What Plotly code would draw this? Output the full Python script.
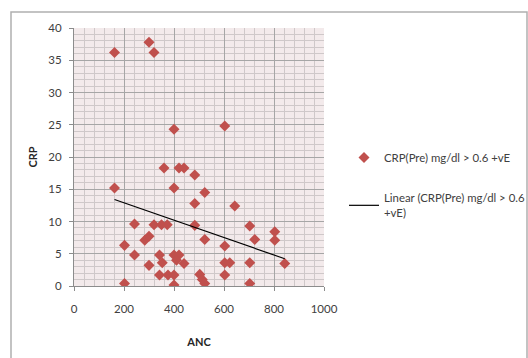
import numpy as np
import plotly.graph_objects as go

anc = [162, 300, 320, 400, 603, 162, 360, 420, 440, 483, 400, 523, 483, 643,
       242, 320, 350, 373, 483, 703, 803, 803, 723, 523, 603, 202, 283, 300,
       242, 300, 342, 353, 342, 376, 400, 400, 420, 410, 440, 400, 202, 503,
       513, 523, 603, 623, 603, 703, 703, 843]
crp = [36.2, 37.8, 36.2, 24.3, 24.8, 15.2, 18.3, 18.3, 18.3, 17.2, 15.2, 14.5, 12.8, 12.4,
       9.6, 9.5, 9.5, 9.5, 9.4, 9.3, 8.4, 7.1, 7.2, 7.2, 6.2, 6.3, 7.1, 7.7,
       4.8, 3.2, 4.8, 3.6, 1.7, 1.7, 1.7, 4.8, 4.8, 4.0, 3.5, 0.15, 0.4, 1.8,
       1.0, 0.4, 3.6, 3.6, 1.7, 3.6, 0.4, 3.5]

series_name = "CRP(Pre) mg/dl > 0.6 +vE"
trend_name = "Linear (CRP(Pre) mg/dl > 0.6<br>+vE)"

x_ticks = [0, 200, 400, 600, 800, 1000]
y_ticks = [0, 5, 10, 15, 20, 25, 30, 35, 40]

slope, intercept = np.polyfit(anc, crp, 1)
tx = np.array([min(anc), max(anc)])
ty = slope * tx + intercept

FONT = "Lato, Carlito, Calibri, sans-serif"

fig = go.Figure()
fig.add_trace(go.Scatter(
    x=anc, y=crp, mode="markers", name=series_name, legendgroup="a",
    marker=dict(symbol="diamond", size=8.5, color="#c0504d", line=dict(width=0)),
))
fig.add_trace(go.Scatter(
    x=tx, y=ty, mode="lines", name=trend_name, legendgroup="b",
    line=dict(color="#000000", width=1.2),
))

L, R, T, B = 74, 204, 28, 72
W, H = 528, 358
pw, ph = W - L - R, H - T - B

def px2paper_x(px):
    return (px - L) / pw

def px2paper_y(py):
    return (H - B - py) / ph

fig.add_shape(type="rect", xref="paper", yref="paper",
              x0=px2paper_x(11), x1=px2paper_x(527),
              y0=px2paper_y(370), y1=px2paper_y(12),
              line=dict(color="#b0b0b0", width=1.5), layer="below")

fig.update_layout(
    width=W, height=H,
    margin=dict(l=L, r=R, t=T, b=B, autoexpand=False),
    paper_bgcolor="white",
    plot_bgcolor="#f3eaeb",
    font=dict(family=FONT, size=11.5, color="#404040"),
    showlegend=True,
    legend=dict(
        x=px2paper_x(344), y=px2paper_y(143), xanchor="left", yanchor="top",
        font=dict(family=FONT, size=11.4, color="#404040"),
        traceorder="grouped", tracegroupgap=22,
        itemwidth=30, bgcolor="rgba(0,0,0,0)",
    ),
)

fig.update_xaxes(
    range=[0, 1000], tickvals=x_ticks, ticktext=[str(v) for v in x_ticks],
    showgrid=True, gridcolor="#a6a6a6", gridwidth=1,
    minor=dict(dtick=40, showgrid=True, gridcolor="#cfc8c9", gridwidth=1, ticks=""),
    showline=True, linecolor="#8c8c8c", linewidth=1.2,
    ticks="outside", ticklen=4, tickcolor="#8c8c8c",
    ticklabelstandoff=8,
    zeroline=False, mirror=False,
    title=dict(text="<b>ANC</b>", font=dict(family=FONT, size=11, color="#262626"), standoff=24),
)
fig.update_yaxes(
    range=[0, 40], tickvals=y_ticks, ticktext=[str(v) for v in y_ticks],
    showgrid=True, gridcolor="#a6a6a6", gridwidth=1,
    minor=dict(dtick=1, showgrid=True, gridcolor="#cfc8c9", gridwidth=1, ticks=""),
    showline=True, linecolor="#8c8c8c", linewidth=1.2,
    ticks="outside", ticklen=4, tickcolor="#8c8c8c",
    ticklabelstandoff=5,
    zeroline=False,
    title=dict(text="<b>CRP</b>", font=dict(family=FONT, size=11, color="#262626"), standoff=8),
)

fig.write_html(
    "out.html",
    config={"displayModeBar": False},
    post_script="document.body.style.margin='0';document.body.style.overflow='hidden';",
)
